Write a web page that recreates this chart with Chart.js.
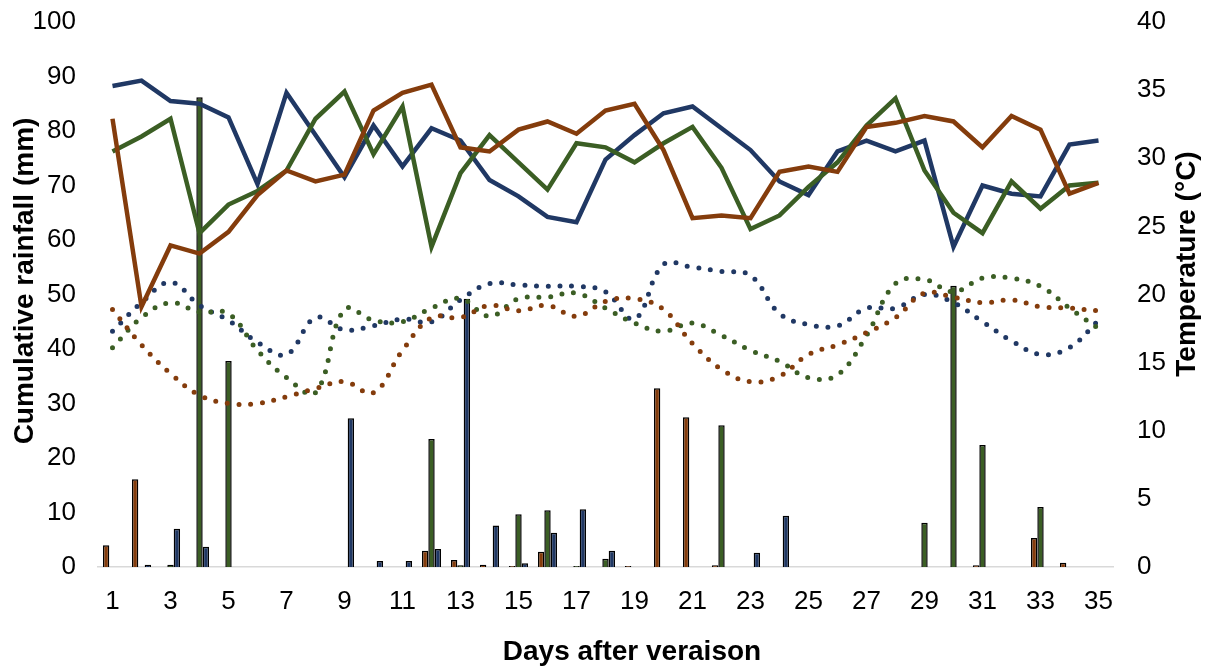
<!DOCTYPE html>
<html>
<head>
<meta charset="utf-8">
<script src="https://cdn.jsdelivr.net/npm/chart.js@4/dist/chart.umd.min.js"></script>
<style>
body{margin:0;background:#fff;}
canvas{display:block;}
</style>
</head>
<body>
<canvas id="rainChart" width="1210" height="667"></canvas>
<script>
// data
const days=["1","2","3","4","5","6","7","8","9","10","11","12","13","14","15","16","17","18","19","20","21","22","23","24","25","26","27","28","29","30","31","32","33","34","35"];

// rainfall bars (mm)
const rainBrown=[4.0,16.1,0,0,0,0,0,0,0,0,0,3.0,1.3,0.4,0.2,2.8,0,0,0.2,32.8,27.5,0.3,0,0,0,0,0,0,0,0,0.3,0,5.3,0.8,0];
const rainGreen=[0,0,0.4,86.2,37.8,0,0,0,0,0,0,23.5,0.3,0,9.7,10.4,0.2,1.5,0,0,0,26.0,0,0,0,0,0,0,8.1,51.6,22.4,0,11.0,0,0];
const rainBlue=[0,0.4,7.0,3.7,0,0,0,0,27.3,1.1,1.1,3.3,49.2,7.6,0.7,6.3,10.6,3.0,0,0,0,0,2.6,9.4,0,0,0,0,0,0,0,0,0,0,0];

// temperature lines (°C), solid
const maxBrown=[32.9,19.1,23.6,23.0,24.6,27.3,29.1,28.3,28.8,33.5,34.8,35.4,30.8,30.5,32.1,32.7,31.8,33.5,34.0,30.6,25.6,25.8,25.6,29.0,29.4,29.0,32.3,32.6,33.1,32.7,30.8,33.1,32.1,27.4,28.2];
const maxGreen=[30.5,31.6,32.9,24.5,26.6,27.6,29.1,32.9,34.9,30.3,33.8,23.5,28.9,31.7,29.7,27.7,31.1,30.8,29.7,31.1,32.3,29.3,24.8,25.8,27.9,29.7,32.4,34.4,29.1,26.0,24.5,28.3,26.3,28.0,28.2];
const maxBlue=[35.3,35.7,34.2,34.0,33.0,28.1,34.8,31.7,28.6,32.4,29.4,32.2,31.3,28.4,27.2,25.7,25.3,29.9,31.7,33.3,33.8,32.2,30.6,28.3,27.3,30.5,31.3,30.5,31.3,23.5,28.0,27.4,27.2,31.0,31.3];

// temperature lines (°C), dotted
const minBrown=[18.9,16.3,14.2,12.6,12.0,12.0,12.5,13.1,13.6,12.8,15.9,18.3,18.3,19.2,18.8,19.2,18.4,19.5,19.7,18.9,16.4,14.5,13.6,14.0,15.6,16.3,17.2,18.3,20.1,19.8,19.4,19.6,19.1,19.0,18.8];
const minGreen=[16.1,18.3,19.4,18.7,18.6,15.9,13.9,12.8,18.9,18.1,18.0,19.0,19.7,18.4,19.7,19.8,20.1,19.0,17.9,17.3,17.9,17.0,15.9,15.1,13.9,14.1,17.0,20.8,21.1,20.2,21.2,21.2,20.6,19.0,17.5];
const minBlue=[17.3,19.4,20.9,19.2,18.1,16.5,15.6,18.3,17.4,17.7,18.2,18.0,19.6,20.8,20.7,20.6,20.6,20.2,18.2,22.2,22.0,21.7,21.4,18.6,17.8,17.7,19.0,19.0,20.0,19.4,18.0,16.6,15.6,16.1,18.1];

const BROWN="#843C0C";
const GREEN="#3B5E24";
const BLUE="#203864";
const FONT='"Liberation Sans", Arial, sans-serif';

function bar(data,color){
return {type:"bar",data:data,yAxisID:"y",backgroundColor:color,borderColor:"#000",borderWidth:1.5,
categoryPercentage:0.66,barPercentage:1,order:3};
}
function solid(data,color){
return {type:"line",data:data,yAxisID:"y1",borderColor:color,borderWidth:4.5,pointRadius:0,tension:0,order:1};
}
function dotted(data,color){
return {type:"line",data:data,yAxisID:"y1",borderColor:color,borderWidth:5,borderDash:[0,11.7],
borderCapStyle:"round",pointRadius:0,tension:0.4,order:2};
}

// axis titles drawn by hand so they can sit where the figure has them
const axisTitles={
id:"axisTitles",
afterDraw(chart){
const ctx=chart.ctx;
ctx.save();
ctx.font="bold 28px "+FONT;
ctx.fillStyle="#000";
ctx.textAlign="center";
ctx.textBaseline="alphabetic";
ctx.fillText("Days after veraison",632,660);
ctx.textBaseline="middle";
ctx.save();
ctx.translate(25,281);
ctx.rotate(-Math.PI/2);
ctx.fillText("Cumulative rainfall (mm)",0,0);
ctx.restore();
ctx.save();
ctx.translate(1187,264);
ctx.rotate(-Math.PI/2);
ctx.fillText("Temperature (°C)",0,0);
ctx.restore();
ctx.restore();
}
};

function fixSide(w){
return function(s){s.width=w;s.paddingTop=0;s.paddingBottom=0;};
}

new Chart(document.getElementById("rainChart"),{
type:"bar",
data:{
labels:days,
datasets:[
bar(rainBrown,BROWN),bar(rainGreen,GREEN),bar(rainBlue,BLUE),
solid(maxBrown,BROWN),solid(maxGreen,GREEN),solid(maxBlue,BLUE),
dotted(minBrown,BROWN),dotted(minGreen,GREEN),dotted(minBlue,BLUE)
]
},
options:{
responsive:false,
animation:false,
devicePixelRatio:1,
layout:{padding:{top:22,left:0,right:0,bottom:0}},
plugins:{legend:{display:false},tooltip:{enabled:false}},
scales:{
x:{
offset:true,
grid:{display:false,drawTicks:false},
border:{display:true,color:"#D9D9D9",width:1.5},
ticks:{autoSkip:false,maxRotation:0,padding:19,color:"#000",font:{family:FONT,size:26},
callback:(v,i)=>i%2===0?days[i]:""},
afterFit(s){s.height=100;s.paddingLeft=0;s.paddingRight=0;}
},
y:{
position:"left",min:0,max:100,
grid:{display:false,drawTicks:false},
border:{display:false},
ticks:{stepSize:10,padding:22,color:"#000",font:{family:FONT,size:26}},
afterFit:fixSide(98)
},
y1:{
position:"right",min:0,max:40,
grid:{display:false,drawTicks:false},
border:{display:false},
ticks:{stepSize:5,padding:24,color:"#000",font:{family:FONT,size:26}},
afterFit:fixSide(97)
}
}
},
plugins:[axisTitles]
});
</script>
</body>
</html>
